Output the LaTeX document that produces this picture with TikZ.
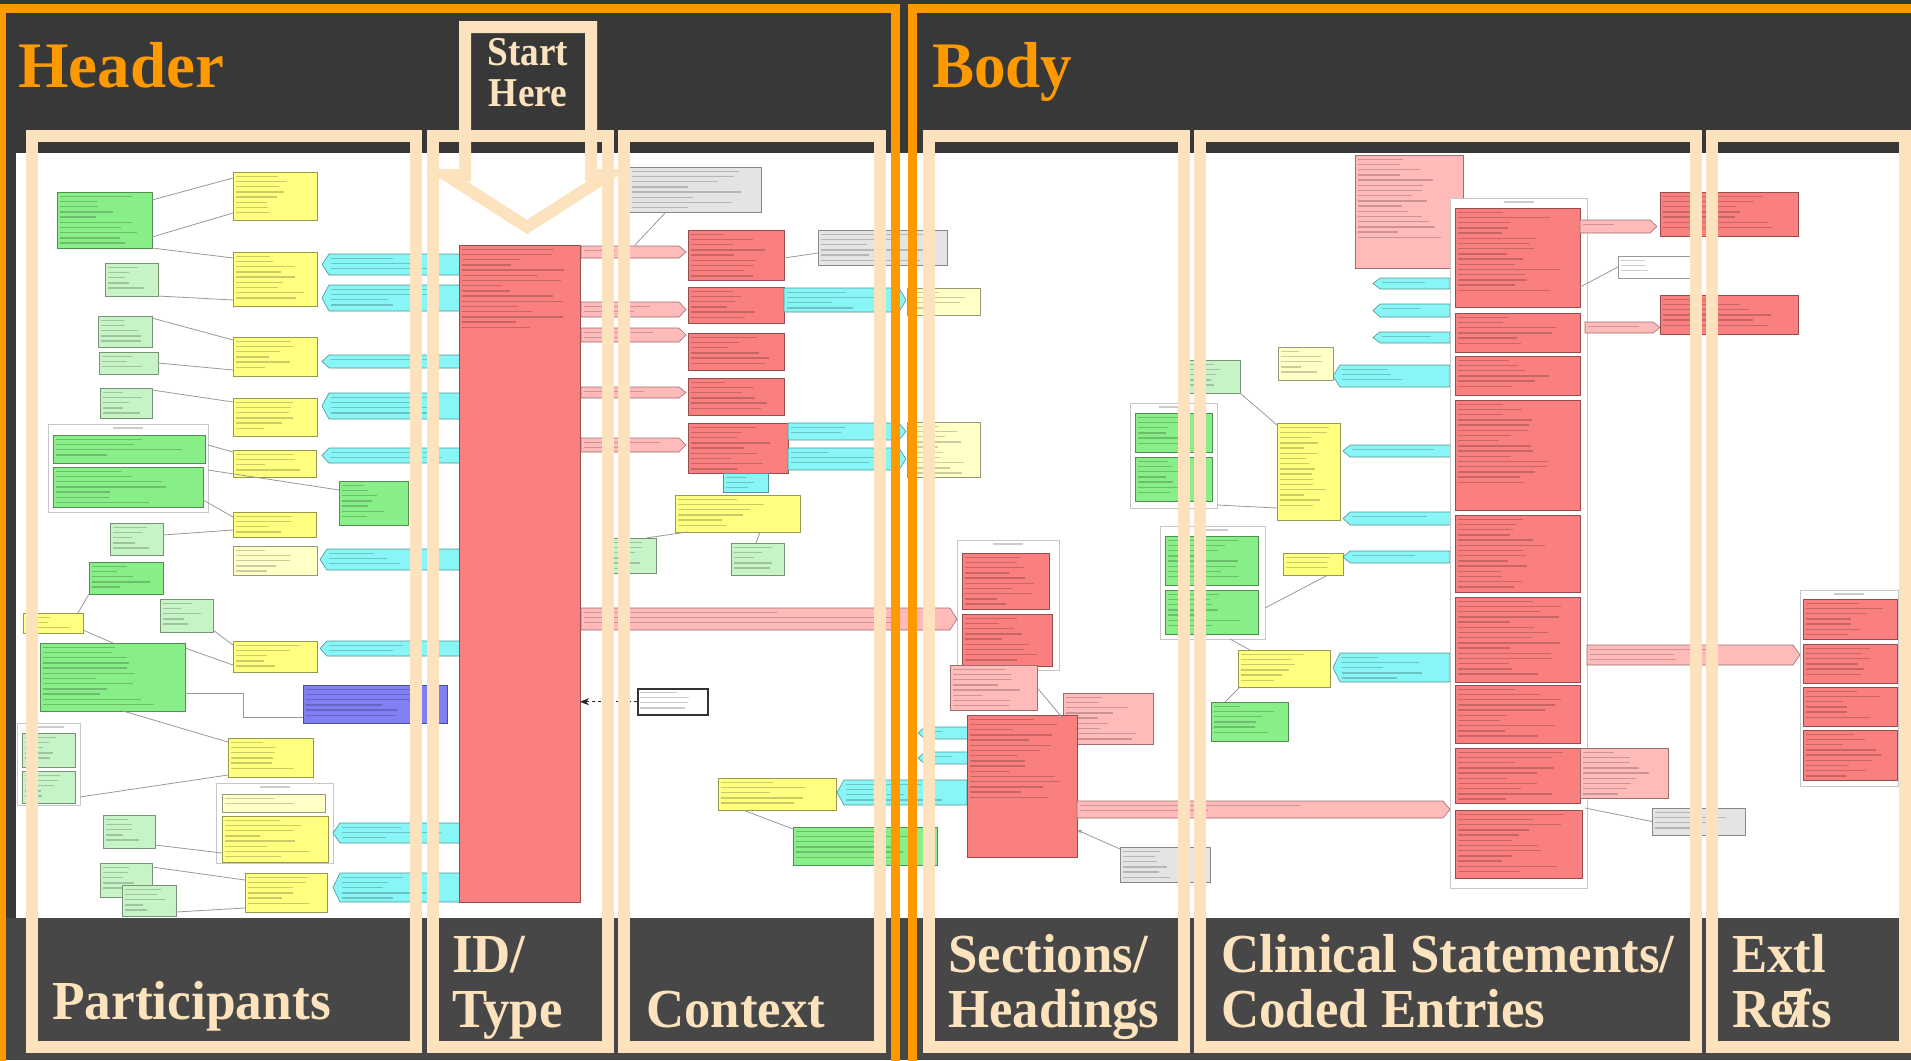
\documentclass[tikz,border=0pt]{standalone}
\usepackage{fontspec}
\setmainfont{Liberation Serif}
\usepackage{graphicx}
\usetikzlibrary{calc,arrows.meta}
\definecolor{bgtop}{HTML}{383838}
\definecolor{bgbot}{HTML}{474747}
\definecolor{orng}{HTML}{FF9900}
\definecolor{beig}{HTML}{FCE3BD}
\definecolor{cG}{HTML}{88EE88}
\definecolor{cLG}{HTML}{C6F4C6}
\definecolor{cY}{HTML}{FFFF80}
\definecolor{cLY}{HTML}{FFFFC8}
\definecolor{cC}{HTML}{88F6F6}
\definecolor{cR}{HTML}{FA8080}
\definecolor{cP}{HTML}{FFBABA}
\definecolor{cB}{HTML}{8080F4}
\definecolor{cN}{HTML}{E4E4E4}
\definecolor{cW}{HTML}{FFFFFF}
\tikzset{
  ubox/.style={rectangle, inner sep=0pt, outer sep=0pt, line width=0.8pt},
  tline/.style={black, opacity=0.2, line width=1.4pt},
  conn/.style={draw=black!40, line width=0.8pt},
  ctnr/.style={rectangle, draw=black!22, fill=white, line width=0.8pt, inner sep=0pt, outer sep=0pt},
  frameB/.style={draw=beig, line width=12pt, line join=miter},
  frameO/.style={draw=orng, line width=9pt},
  lbl/.style={text=beig, inner sep=0pt, anchor=base west, font=\fontsize{55}{60}\selectfont\bfseries},
  ttl/.style={text=orng, inner sep=0pt, anchor=base west, font=\fontsize{65}{70}\selectfont\bfseries},
  sth/.style={text=beig, inner sep=0pt, anchor=base, font=\fontsize{41}{45}\selectfont\bfseries}
}
\newcommand\utext[4]{%
  \pgfmathtruncatemacro\nl{min(16,floor(((#4)-(#2)-3)/5.2))}%
  \ifnum\nl>0
    \foreach \k in {1,...,\nl}{%
      \pgfmathsetmacro\ww{((#3)-(#1)-8)*(0.35+0.55*rnd)}%
      \draw[tline] ({#1+3},{#2+\k*5.2-1}) -- ++(\ww,0);
    }%
  \fi
}
\newcommand\ubox[6]{%
  \node[ubox, fill=#6, draw=#6!60!black, minimum width={#4-#2}, minimum height={#5-#3}, anchor=north west] (#1) at (#2,#3) {};
  \utext{#2}{#3}{#4}{#5}%
}
\newcommand\ctn[5]{%
  \node[ctnr, minimum width={#4-#2}, minimum height={#5-#3}, anchor=north west] (#1) at (#2,#3) {};
  \draw[tline] ({(#2+#4)/2-15},{#3+4}) -- ++(30,0);
}
\newcommand\rbar[6]{%
  \filldraw[fill=#6, draw=#6!60!black, line width=0.6pt] (#2,#3) -- ({#4-7},#3) -- (#4,{(#3+#5)/2}) -- ({#4-7},#5) -- (#2,#5) -- cycle;
  \coordinate (#1) at (#2,{(#3+#5)/2});
  \utext{#2}{#3}{#4-10}{#5}%
}
\newcommand\lbar[6]{%
  \filldraw[fill=#6, draw=#6!60!black, line width=0.6pt] (#2,{(#3+#5)/2}) -- ({#2+7},#3) -- (#4,#3) -- (#4,#5) -- ({#2+7},#5) -- cycle;
  \coordinate (#1) at (#4,{(#3+#5)/2});
  \utext{#2+6}{#3}{#4}{#5}%
}
\begin{document}
\begin{tikzpicture}[x=1pt,y=-1pt]
\pgfmathsetseed{7}
\useasboundingbox (0,0) rectangle (1911,1060);
\fill[bgtop] (0,0) rectangle (1911,1060);
\fill[bgbot] (0,918) rectangle (1911,1060);
\fill[white] (16,153) rectangle (1911,918);

% ---------------- Participants ----------------
\ubox{p1}{57}{192}{152}{248}{cG}
\ubox{p2}{233}{172}{317}{220}{cY}
\ubox{p3}{105}{263}{158}{296}{cLG}
\ubox{p4}{233}{252}{317}{306}{cY}
\lbar{p5}{322}{254}{460}{275}{cC}
\lbar{p6}{322}{285}{460}{311}{cC}
\ubox{p7}{98}{316}{152}{347}{cLG}
\ubox{p8}{233}{337}{317}{376}{cY}
\ubox{p9}{99}{352}{158}{374}{cLG}
\lbar{p10}{322}{355}{460}{368}{cC}
\ubox{p11}{100}{388}{152}{418}{cLG}
\ubox{p12}{233}{398}{317}{436}{cY}
\lbar{p13}{322}{393}{460}{419}{cC}
\ctn{c1}{48}{424}{208}{512}
\ubox{p14}{53}{435}{205}{463}{cG}
\ubox{p15}{53}{467}{203}{507}{cG}
\ubox{p16}{233}{450}{316}{477}{cY}
\lbar{p17}{322}{448}{460}{463}{cC}
\ubox{p18}{339}{481}{408}{525}{cG}
\ubox{p19}{233}{512}{316}{537}{cY}
\ubox{p20}{110}{523}{163}{555}{cLG}
\ubox{p21}{233}{546}{317}{575}{cLY}
\lbar{p22}{320}{549}{460}{570}{cC}
\ubox{p23}{89}{562}{163}{594}{cG}
\ubox{p24}{160}{599}{213}{632}{cLG}
\ubox{p25}{23}{613}{83}{633}{cY}
\ubox{p26}{40}{643}{185}{711}{cG}
\ubox{p27}{233}{641}{317}{672}{cY}
\lbar{p28}{320}{641}{460}{656}{cC}
\ubox{p29}{303}{685}{447}{723}{cB}
\ctn{c2}{17}{723}{80}{805}
\ubox{p30}{22}{733}{75}{767}{cLG}
\ubox{p31}{22}{771}{75}{803}{cLG}
\ubox{p32}{228}{738}{313}{777}{cY}
\ctn{c3}{216}{783}{333}{863}
\ubox{p33}{222}{794}{325}{812}{cLY}
\ubox{p34}{222}{816}{328}{862}{cY}
\lbar{p35}{333}{823}{460}{843}{cC}
\ubox{p36}{103}{815}{155}{848}{cLG}
\ubox{p37}{100}{863}{152}{897}{cLG}
\ubox{p38}{122}{885}{176}{916}{cLG}
\ubox{p39}{245}{873}{327}{912}{cY}
\lbar{p40}{333}{873}{460}{902}{cC}

\draw[conn] ($(p1.north east)+(0,8)$) -- ($(p2.north west)+(0,6)$);
\draw[conn] ($(p1.north east)+(0,45)$) -- ($(p2.south west)+(0,-7)$);
\draw[conn] (p1.south east) -- ($(p4.north west)+(0,6)$);
\draw[conn] (p3.south east) -- ($(p4.south west)+(0,-6)$);
\draw[conn] ($(p7.north east)+(0,2)$) -- ($(p8.north west)+(0,3)$);
\draw[conn] (p9.east) -- ($(p8.south west)+(0,-6)$);
\draw[conn] ($(p11.north east)+(0,2)$) -- ($(p12.north west)+(0,4)$);
\draw[conn] ($(c1.north east)+(0,21)$) -- ($(p16.north west)+(0,2)$);
\draw[conn] ($(c1.north east)+(0,46)$) -- ($(p18.north west)+(0,9)$);
\draw[conn] ($(p15.north east)+(0,33)$) -- ($(p19.north west)+(0,5)$);
\draw[conn] ($(p20.north east)+(0,12)$) -- ($(p19.south west)+(0,-7)$);
\draw[conn] (p23.south west) -- ($(p25.north east)+(-5,0)$);
\draw[conn] ($(p25.south east)+(0,-3)$) -- ($(p26.north west)+(73,0)$);
\draw[conn] ($(p24.south east)+(0,-2)$) -- ($(p27.north west)+(0,4)$);
\draw[conn] ($(p26.north east)+(0,5)$) -- ($(p27.south west)+(0,-7)$);
\draw[conn] ($(p26.north east)+(0,50)$) -- ++(58,0) |- ($(p29.north west)+(0,32)$);
\draw[conn] ($(p26.south west)+(83,0)$) -- ($(p32.north west)+(0,4)$);
\draw[conn] ($(c2.north east)+(0,74)$) -- ($(p32.south west)+(0,-2)$);
\draw[conn] ($(p36.north east)+(0,30)$) -- ($(p34.north west)+(0,37)$);
\draw[conn] ($(p37.north east)+(0,4)$) -- ($(p39.north west)+(0,7)$);
\draw[conn] ($(p38.north east)+(0,27)$) -- ($(p39.south west)+(0,-4)$);

% ---------------- ID / Type ----------------
\ubox{r0}{459}{245}{580}{902}{cR}

% ---------------- Context ----------------
\ubox{n1}{629}{167}{761}{212}{cN}
\rbar{pb1}{581}{246}{686}{258}{cP}
\rbar{pb2}{581}{302}{686}{317}{cP}
\rbar{pb3}{581}{328}{686}{342}{cP}
\rbar{pb4}{581}{387}{686}{398}{cP}
\rbar{pb5}{581}{438}{686}{452}{cP}
\ubox{r1}{688}{230}{784}{280}{cR}
\ubox{r2}{688}{287}{784}{323}{cR}
\ubox{r3}{688}{333}{784}{370}{cR}
\ubox{r4}{688}{378}{784}{415}{cR}
\ubox{r5}{688}{423}{788}{473}{cR}
\ubox{cs}{723}{473}{768}{492}{cC}
\ubox{y1}{675}{495}{800}{532}{cY}
\ubox{lg1}{602}{538}{656}{573}{cLG}
\ubox{lg2}{731}{543}{784}{575}{cLG}
\ubox{n2}{818}{230}{947}{265}{cN}
\rbar{cy1}{784}{288}{906}{312}{cC}
\ubox{ly1}{907}{288}{980}{315}{cLY}
\rbar{cy2}{788}{423}{906}{440}{cC}
\rbar{cy3}{788}{448}{906}{470}{cC}
\ubox{ly2}{907}{422}{980}{477}{cLY}
\rbar{pb6}{581}{608}{957}{630}{cP}
\node[rectangle, draw=black!80, fill=white, line width=1.5pt, inner sep=0pt, minimum width=70, minimum height=26, anchor=north west] (n3) at (637,688) {};
\utext{637}{688}{707}{714}
\ubox{y2}{718}{778}{836}{810}{cY}
\lbar{cy4}{837}{780}{967}{805}{cC}
\ubox{g1}{793}{827}{937}{865}{cG}

\draw[conn] ($(n1.south west)+(37,0)$) -- ($(r0.north east)+(55,0)$);
\draw[conn] ($(r1.north east)+(0,28)$) -- ($(n2.south west)+(0,-12)$);
\draw[conn] ($(y1.south west)+(12,0)$) -- ($(lg1.north east)+(-10,0)$);
\draw[conn] ($(y1.south west)+(85,0)$) -- ($(lg2.north west)+(25,0)$);
\draw[black!85, line width=1.2pt, dashed, -{Stealth[length=9pt,width=7pt]}] (n3.west) -- ($(r0.north east)!(n3.west)!(r0.south east)$);
\draw[conn] ($(y2.south west)+(25,0)$) -- ($(g1.north west)+(0,2)$);

% ---------------- Sections ----------------
\ctn{c4}{957}{540}{1059}{670}
\ubox{r6}{962}{553}{1049}{609}{cR}
\ubox{r7}{962}{614}{1052}{666}{cR}
\ubox{pk1}{950}{665}{1037}{710}{cP}
\ubox{pk2}{1063}{693}{1153}{744}{cP}
\lbar{cy10}{918}{727}{968}{739}{cC}
\lbar{cy11}{918}{752}{968}{764}{cC}
\ubox{r8}{967}{715}{1077}{857}{cR}
\rbar{pb7}{1077}{801}{1450}{818}{cP}
\ubox{n4}{1120}{847}{1210}{882}{cN}
\draw[conn] (pk1.east) -- (pk2.west);
\draw[conn, -{Stealth[length=5pt]}] ($(n4.north west)+(0,2)$) -- ($(r8.south east)+(0,-27)$);

% ---------------- Clinical statements ----------------
\ubox{lg3}{1187}{360}{1240}{393}{cLG}
\ctn{c5}{1130}{403}{1217}{508}
\ubox{g2}{1135}{413}{1212}{452}{cG}
\ubox{g3}{1135}{457}{1212}{501}{cG}
\ubox{pk3}{1355}{155}{1463}{268}{cP}
\lbar{cy12}{1373}{278}{1450}{289}{cC}
\lbar{cy13}{1373}{304}{1450}{317}{cC}
\lbar{cy14}{1373}{332}{1450}{343}{cC}
\ubox{ly3}{1278}{347}{1333}{380}{cLY}
\lbar{cy5}{1333}{365}{1450}{387}{cC}
\ubox{y3}{1277}{423}{1340}{520}{cY}
\lbar{cy6}{1343}{445}{1457}{457}{cC}
\lbar{cy7}{1343}{512}{1457}{525}{cC}
\ctn{c6}{1160}{526}{1265}{639}
\ubox{g4}{1165}{536}{1258}{585}{cG}
\ubox{g5}{1165}{590}{1258}{634}{cG}
\ubox{y4}{1283}{553}{1343}{575}{cY}
\lbar{cy8}{1343}{551}{1450}{563}{cC}
\ubox{y5}{1238}{650}{1330}{687}{cY}
\lbar{cy9}{1333}{653}{1450}{682}{cC}
\ubox{g6}{1211}{702}{1288}{741}{cG}
\ctn{c7}{1450}{198}{1587}{888}
\ubox{q1}{1455}{208}{1580}{307}{cR}
\ubox{q2}{1455}{313}{1580}{352}{cR}
\ubox{q3}{1455}{356}{1580}{395}{cR}
\ubox{q4}{1455}{400}{1580}{510}{cR}
\ubox{q5}{1455}{515}{1580}{592}{cR}
\ubox{q6}{1455}{597}{1580}{682}{cR}
\ubox{q7}{1455}{685}{1580}{743}{cR}
\ubox{q8}{1455}{748}{1580}{803}{cR}
\ubox{q9}{1455}{810}{1582}{878}{cR}
\rbar{pb8}{1580}{220}{1657}{233}{cP}
\rbar{pb9}{1585}{322}{1660}{333}{cP}
\ubox{n5}{1618}{256}{1690}{278}{cW}
\ubox{pk4}{1580}{748}{1668}{798}{cP}
\ubox{n6}{1652}{808}{1745}{835}{cN}
\rbar{pb10}{1587}{645}{1800}{665}{cP}

\draw[conn] (lg3.south east) -- ($(y3.north west)+(0,2)$);
\draw[conn] ($(c5.south east)+(0,-3)$) -- ($(y3.south west)+(0,-12)$);
\draw[conn] ($(c6.north east)+(0,82)$) -- ($(y4.south east)+(-15,0)$);
\draw[conn] ($(c6.south west)+(70,0)$) -- ($(y5.north west)+(12,0)$);
\draw[conn] ($(y5.south west)+(2,0)$) -- ($(g6.north west)+(14,0)$);
\draw[conn] (n5.west) -- ($(c7.north east)+(-7,89)$);
\draw[conn] (n6.west) -- ($(c7.south east)+(-2,-80)$);

% ---------------- External refs ----------------
\ubox{x1}{1660}{192}{1798}{236}{cR}
\ubox{x2}{1660}{295}{1798}{334}{cR}
\ctn{c8}{1800}{590}{1898}{786}
\ubox{x3}{1803}{599}{1897}{639}{cR}
\ubox{x4}{1803}{644}{1897}{683}{cR}
\ubox{x5}{1803}{687}{1897}{726}{cR}
\ubox{x6}{1803}{730}{1897}{780}{cR}

% ---------------- frames ----------------
\draw[frameO] (1,1100) -- (1,8) -- (895.5,8) -- (895.5,1100);
\draw[frameO] (912.5,1100) -- (912.5,8) -- (1950,8);

\draw[frameB] (32,136) rectangle (416,1047);
\draw[frameB] (433,136) rectangle (608,1047);
\draw[frameB] (624,136) rectangle (880,1047);
\draw[frameB] (929,136) rectangle (1184,1047);
\draw[frameB] (1200,136) rectangle (1696,1047);
\draw[frameB] (1712,136) rectangle (1905,1047);
\draw[frameB] (465,27) -- (591,27) -- (591,175) -- (608,175) -- (527,227) -- (446,175) -- (465,175) -- cycle;

% ---------------- texts ----------------
\node[ttl] (tH) at (18,87) {Header};
\node[ttl] (tB) at (932,87) {\scalebox{0.97}[1]{Body}};
\node[sth] (s1) at (528,65) {\scalebox{0.91}[1]{Start}};
\node[sth] (s2) at (528,106) {\scalebox{0.91}[1]{Here}};
\node[lbl] (l1) at (52,1019) {\scalebox{0.97}[1]{Participants}};
\node[lbl] (l2) at (452,972) {\scalebox{0.96}[1]{ID/}};
\node[lbl] (l3) at (452,1027) {\scalebox{0.96}[1]{Type}};
\node[lbl] (l4) at (646,1027) {\scalebox{0.96}[1]{Context}};
\node[lbl] (l5) at (948,972) {\scalebox{0.96}[1]{Sections/}};
\node[lbl] (l6) at (948,1027) {\scalebox{0.96}[1]{Headings}};
\node[lbl] (l7) at (1221,972) {\scalebox{0.96}[1]{Clinical Statements/}};
\node[lbl] (l8) at (1221,1027) {\scalebox{0.96}[1]{Coded Entries}};
\node[lbl] (l9) at (1732,972) {\scalebox{0.96}[1]{Extl}};
\node[lbl] (l10) at (1732,1027) {\scalebox{0.96}[1]{Refs}};
\node[lbl] (l11) at (1781,1027) {\scalebox{0.96}[1]{7}};
\end{tikzpicture}
\end{document}
